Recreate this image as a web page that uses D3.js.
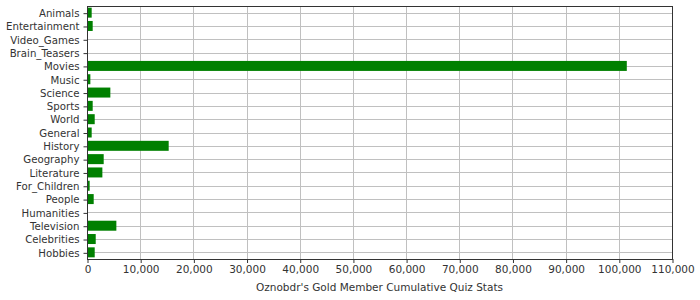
<!DOCTYPE html>
<html>
<head>
<meta charset="utf-8">
<script src="https://cdn.jsdelivr.net/npm/d3@7"></script>
<style>
  body { margin: 0; background: #fff; }
  text { font-family: "DejaVu Sans", sans-serif; fill: #333; }
</style>
</head>
<body>
<div id="chart"></div>
<script>
/* Data */
var categories = ["Animals", "Entertainment", "Video_Games", "Brain_Teasers", "Movies",
  "Music", "Science", "Sports", "World", "General", "History", "Geography",
  "Literature", "For_Children", "People", "Humanities", "Television",
  "Celebrities", "Hobbies"];
var values = [880, 1070, 0, 0, 101500, 630, 4390, 1070, 1450, 880, 15360,
  3140, 2890, 500, 1260, 0, 5520, 1640, 1450];
var xTicks = [0, 10000, 20000, 30000, 40000, 50000, 60000, 70000, 80000,
  90000, 100000, 110000];
var axisTitle = "Oznobdr's Gold Member Cumulative Quiz Stats";

var width = 700, height = 300;
var margin = {top: 6, right: 28, bottom: 41, left: 87};
var plotW = width - margin.left - margin.right;
var plotH = height - margin.top - margin.bottom;

var svg = d3.select('#chart').append('svg')
  .attr('width', width)
  .attr('height', height);

var g = svg.append('g')
  .attr('transform', 'translate(' + margin.left + ',' + margin.top + ')');

var x = d3.scaleLinear().domain([0, 110000]).range([0, plotW]);
var yc = d3.scalePoint().domain(categories).range([0, plotH]).padding(0.5);

// grid lines
g.selectAll('.vgrid')
  .data(xTicks.slice(1, -1))
  .enter()
  .append('line')
  .attr('x1', function(d){ return Math.round(x(d)) + 0.5; })
  .attr('x2', function(d){ return Math.round(x(d)) + 0.5; })
  .attr('y1', 0)
  .attr('y2', plotH)
  .attr('stroke', '#c0c0c0');

g.selectAll('.hgrid')
  .data(categories)
  .enter()
  .append('line')
  .attr('x1', 0)
  .attr('x2', plotW)
  .attr('y1', function(d){ return Math.round(yc(d)) + 0.5; })
  .attr('y2', function(d){ return Math.round(yc(d)) + 0.5; })
  .attr('stroke', '#c0c0c0');

// bars
g.selectAll('rect.bar')
  .data(values)
  .enter()
  .append('rect')
  .attr('class', 'bar')
  .attr('x', 0)
  .attr('y', function(d, i){ return yc(categories[i]) - 5; })
  .attr('width', function(d){ return x(d); })
  .attr('height', 10)
  .attr('fill', '#008000');

// plot outline
g.append('rect')
  .attr('x', 0.5)
  .attr('y', 0.5)
  .attr('width', plotW)
  .attr('height', plotH)
  .attr('fill', 'none')
  .attr('stroke', '#333');

// axes
var xAxis = d3.axisBottom(x)
  .tickValues(xTicks)
  .tickSize(4)
  .tickPadding(3)
  .tickFormat(d3.format(','));
var xg = g.append('g')
  .attr('transform', 'translate(0.5,' + plotH + ')')
  .call(xAxis);
xg.select('.domain').remove();
xg.selectAll('line').attr('stroke', '#333');
xg.selectAll('text').style('font-size', '10.5px').attr('fill', '#333');

var yAxis = d3.axisLeft(yc).tickSize(4).tickPadding(4);
var yg = g.append('g')
  .attr('transform', 'translate(0.5,0.5)')
  .call(yAxis);
yg.select('.domain').remove();
yg.selectAll('line').attr('stroke', '#333');
yg.selectAll('text').style('font-size', '10.2px').attr('fill', '#333');

svg.append('text')
  .attr('x', margin.left + plotW / 2)
  .attr('y', height - 9)
  .attr('text-anchor', 'middle')
  .style('font-size', '10.5px')
  .text(axisTitle);
</script>
</body>
</html>
